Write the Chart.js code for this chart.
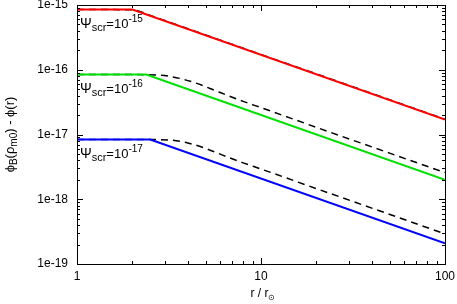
<!DOCTYPE html>
<html>
<head>
<meta charset="utf-8">
<script src="https://cdn.jsdelivr.net/npm/chart.js@4"></script>
<style>
  html, body { margin: 0; padding: 0; background: #fff; }
  #chart { display: block; }
</style>
</head>
<body>
<canvas id="chart" width="457" height="304"></canvas>
<script>
// --- data ---
const xTicks = [1, 10, 100];
const xTickLabels = ['1', '10', '100'];
const yTicks = [1e-15, 1e-16, 1e-17, 1e-18, 1e-19];
const yTickLabels = ['1e-15', '1e-16', '1e-17', '1e-18', '1e-19'];

const psiExponents = ['-15', '-16', '-17'];

// solid curves (r, phi)
const redR = [1, 2.0, 100];
const redPhi = [8.5e-16, 8.5e-16, 1.7e-17];
const greenR = [1, 2.38, 100];
const greenPhi = [8.43e-17, 8.43e-17, 2.0e-18];
const blueR = [1, 2.5, 100];
const bluePhi = [8.34e-18, 8.34e-18, 2.09e-19];

// black dashed curves
const redDashR = [1, 2.0, 2.5, 3, 5, 10, 30, 100];
const redDashPhi = [8.5e-16, 8.45e-16, 6.9e-16, 5.75e-16, 3.45e-16, 1.72e-16, 5.75e-17, 1.72e-17];
const greenDashR = [1, 2.4, 3.2, 4.3, 6, 8, 10, 20, 50, 100];
const greenDashPhi = [8.43e-17, 8.4e-17, 7.9e-17, 6.4e-17, 4.45e-17, 3.25e-17, 2.6e-17, 1.29e-17, 5.15e-18, 2.58e-18];
const blueDashR = [1, 2.5, 3.2, 4, 5, 6.5, 8, 10, 20, 40, 100];
const blueDashPhi = [8.34e-18, 8.34e-18, 8.2e-18, 7.4e-18, 6.1e-18, 4.55e-18, 3.65e-18, 2.93e-18, 1.46e-18, 7.3e-19, 2.92e-19];

const FONT = "'Liberation Sans', Arial, sans-serif";

function pts(xs, ys) {
    return xs.map((x, i) => ({ x: x, y: ys[i] }));
}

function solid(xs, ys, color) {
    return {
        data: pts(xs, ys),
        borderColor: color,
        borderWidth: 2,
        pointRadius: 0,
        tension: 0,
        fill: false
    };
}

function dashed(xs, ys) {
    return {
        data: pts(xs, ys),
        borderColor: '#000',
        borderWidth: 1.5,
        borderDash: [7, 5],
        pointRadius: 0,
        cubicInterpolationMode: 'monotone',
        fill: false
    };
}

// draw a row of text pieces (sub/superscripts) starting at x
function drawRuns(ctx, x, y, runs) {
    ctx.textAlign = 'left';
    ctx.textBaseline = 'alphabetic';
    runs.forEach(r => {
        ctx.font = r.size + 'px ' + FONT;
        ctx.fillText(r.t, x, y + (r.dy || 0));
        x += ctx.measureText(r.t).width;
    });
    return x;
}

function runsWidth(ctx, runs) {
    let w = 0;
    runs.forEach(r => {
        ctx.font = r.size + 'px ' + FONT;
        w += ctx.measureText(r.t).width;
    });
    return w;
}

// frame, inward ticks, labels
const framePlugin = {
    id: 'frame',
    afterDatasetsDraw(chart) {
        const ctx = chart.ctx;
        const a = chart.chartArea;
        const xs = chart.scales.x;
        const ys = chart.scales.y;
        ctx.save();
        ctx.strokeStyle = '#000';
        ctx.fillStyle = '#000';
        ctx.lineWidth = 1;

        // ticks
        ctx.beginPath();
        for (let d = 0; d < 2; d++) {
            for (let k = 1; k <= 10; k++) {
                const v = k * Math.pow(10, d);
                const px = Math.round(xs.getPixelForValue(v)) + 0.5;
                const len = (k === 1 || k === 10) ? 6 : 3;
                ctx.moveTo(px, a.bottom); ctx.lineTo(px, a.bottom - len);
                ctx.moveTo(px, a.top); ctx.lineTo(px, a.top + len);
            }
        }
        for (let d = -19; d < -15; d++) {
            for (let k = 1; k <= 10; k++) {
                const v = k * Math.pow(10, d);
                const py = Math.round(ys.getPixelForValue(v)) + 0.5;
                const len = (k === 1 || k === 10) ? 6 : 3;
                ctx.moveTo(a.left, py); ctx.lineTo(a.left + len, py);
                ctx.moveTo(a.right, py); ctx.lineTo(a.right - len, py);
            }
        }
        ctx.stroke();
        ctx.strokeRect(Math.round(a.left) + 0.5, Math.round(a.top) + 0.5,
            Math.round(a.right - a.left), Math.round(a.bottom - a.top));

        // tick labels
        ctx.font = '12px ' + FONT;
        ctx.textAlign = 'right';
        ctx.textBaseline = 'middle';
        yTicks.forEach((v, i) => {
            ctx.fillText(yTickLabels[i], a.left - 9, ys.getPixelForValue(v));
        });
        ctx.textAlign = 'center';
        xTicks.forEach((v, i) => {
            ctx.fillText(xTickLabels[i], xs.getPixelForValue(v), a.bottom + 13);
        });

        // x title: r / r_sun
        const xt = [{ t: 'r / r', size: 12 }, { t: '\u2299', size: 8, dy: 3 }];
        const xw = runsWidth(ctx, xt);
        drawRuns(ctx, (a.left + a.right) / 2 - xw / 2 + 2, a.bottom + 33, xt);

        // y title
        const yt = [
            { t: '\u03d5', size: 13 }, { t: 'B', size: 10, dy: 3 },
            { t: '(\u03c1', size: 13 }, { t: 'm0', size: 10, dy: 3 },
            { t: ') - \u03d5(r)', size: 13 }
        ];
        const yw = runsWidth(ctx, yt);
        ctx.save();
        ctx.translate(14, (a.top + a.bottom) / 2);
        ctx.rotate(-Math.PI / 2);
        drawRuns(ctx, -yw / 2, 0, yt);
        ctx.restore();

        // Psi_scr labels under each plateau
        const plateaus = [redPhi[0], greenPhi[0], bluePhi[0]];
        plateaus.forEach((v, i) => {
            const py = ys.getPixelForValue(v) + 18;
            drawRuns(ctx, a.left + 3, py, [
                { t: '\u03a8', size: 14 },
                { t: 'scr', size: 11, dy: 3 },
                { t: '=10', size: 13 },
                { t: psiExponents[i], size: 10, dy: -6 }
            ]);
        });
        ctx.restore();
    }
};

const chart = new Chart(document.getElementById('chart'), {
    type: 'line',
    data: {
        datasets: [
            solid(redR, redPhi, '#ff0000'),
            solid(greenR, greenPhi, '#00e000'),
            solid(blueR, bluePhi, '#0000ff'),
            dashed(redDashR, redDashPhi),
            dashed(greenDashR, greenDashPhi),
            dashed(blueDashR, blueDashPhi)
        ]
    },
    options: {
        responsive: false,
        animation: false,
        layout: { padding: { left: 77, right: 12, top: 5, bottom: 40 } },
        plugins: {
            legend: { display: false },
            tooltip: { enabled: false }
        },
        scales: {
            x: { type: 'logarithmic', min: 1, max: 100, display: false },
            y: { type: 'logarithmic', min: 1e-19, max: 1e-15, display: false }
        }
    },
    plugins: [framePlugin]
});
</script>
</body>
</html>
